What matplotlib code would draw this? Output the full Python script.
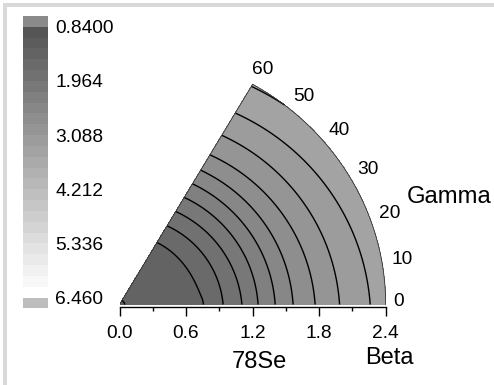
import matplotlib.pyplot as plt
from matplotlib.colors import ListedColormap, BoundaryNorm
from matplotlib.patches import Rectangle
import numpy as np

plt.rcParams['font.family'] = ['Liberation Sans', 'DejaVu Sans']

# colour scale of the contour map (25 equal steps)
levels = np.linspace(0.84, 6.46, 26)
cbar_ticks = [0.84, 1.964, 3.088, 4.212, 5.336, 6.46]
cbar_labels = ['0.8400', '1.964', '3.088', '4.212', '5.336', '6.460']

# energy read along the two wedge edges (gamma = 0 and gamma = 60)
beta_g0 = [0.0, 0.05, 0.755, 0.935, 1.101, 1.25, 1.401, 1.566, 1.761, 1.986, 2.257, 2.4]
e_g0 = [1.28, 1.29, 1.51, 1.74, 1.96, 2.19, 2.41, 2.64, 2.86, 3.09, 3.31, 3.43]
beta_g60 = [0.0, 0.045, 0.673, 0.858, 1.011, 1.168, 1.313, 1.465, 1.628, 1.846, 2.083, 2.4]
e_g60 = [1.28, 1.29, 1.51, 1.74, 1.96, 2.19, 2.41, 2.64, 2.86, 3.09, 3.31, 3.555]

beta_ticks = [0.0, 0.6, 1.2, 1.8, 2.4]
beta_minor = [0.3, 0.9, 1.5, 2.1]
gamma_ticks = [0, 10, 20, 30, 40, 50, 60]
beta_max = 2.4

# grays: dark -> white, with separate below / above colours
band_grays = [85 + 170 * j / 24 for j in range(25)]
band_colors = ['#' + ('%02x' % int(round(v))) * 3 for v in band_grays]
below_color = '#8a8a8a'
above_color = '#bdbdbd'
cmap = ListedColormap(band_colors)
norm = BoundaryNorm(levels, cmap.N)

W, H = 494, 385
fig = plt.figure(figsize=(W / 100, H / 100), dpi=100)

# light frame lines on top and left
fig.add_artist(Rectangle((3.3 / W, 1 - 6.7 / H), 1, 3.4 / H, transform=fig.transFigure,
                         color='#d9d9d9', lw=0))
fig.add_artist(Rectangle((3.3 / W, 0), 3.4 / W, 1 - 3.3 / H, transform=fig.transFigure,
                         color='#d9d9d9', lw=0))

# main wedge
x0, x1, ytop, ybot = 119.5, 385.7, 84.3, 304.5
ax = fig.add_axes([x0 / W, 1 - ybot / H, (x1 - x0) / W, (ybot - ytop) / H])

b = np.linspace(0, beta_max, 241)
g = np.radians(np.linspace(0, 60, 121))
B, G = np.meshgrid(b, g)
w = G / np.radians(60)
E = np.interp(B, beta_g0, e_g0) * (1 - w) + np.interp(B, beta_g60, e_g60) * w
X = B * np.cos(G)
Y = B * np.sin(G)

ax.contourf(X, Y, E, levels=levels, cmap=cmap, norm=norm)
ax.contour(X, Y, E, levels=levels, colors='k', linewidths=1.0)

t = np.radians(np.linspace(0, 60, 200))
ax.plot(beta_max * np.cos(t), beta_max * np.sin(t), color='#333333', lw=0.6)
ax.plot([0, beta_max * np.cos(np.pi / 3)], [0, beta_max * np.sin(np.pi / 3)],
        color='#333333', lw=0.6)

ax.set_xlim(0, beta_max)
ax.set_ylim(0, beta_max * np.sin(np.pi / 3))
for s in ['left', 'right', 'top']:
    ax.spines[s].set_visible(False)
ax.spines['bottom'].set_position(('outward', 2))
ax.spines['bottom'].set_linewidth(1.0)
ax.set_yticks([])
ax.set_xticks(beta_ticks)
ax.set_xticklabels(['%.1f' % v for v in beta_ticks])
ax.set_xticks(beta_minor, minor=True)
ax.tick_params(axis='x', which='major', direction='out', length=6.7, width=1.0,
               labelsize=13.8, pad=6)
ax.tick_params(axis='x', which='minor', direction='out', length=3.1, width=1.0)
ax.patch.set_alpha(0)

for gt in gamma_ticks:
    a = np.radians(gt)
    d = 9 if gt == 0 else 15
    dy = 2 if gt == 0 else -2
    ax.annotate(str(gt), xy=(beta_max * np.cos(a), beta_max * np.sin(a)),
                xytext=(d * np.cos(a), d * np.sin(a) + dy), textcoords='offset points',
                ha='center', va='center', fontsize=13.8, annotation_clip=False)

fig.text(259.3 / W, 1 - 361.7 / H, '78Se', ha='center', va='center', fontsize=17)
fig.text(389 / W, 1 - 358.3 / H, 'Beta', ha='center', va='center', fontsize=17)
fig.text(449 / W, 1 - 197 / H, 'Gamma', ha='center', va='center', fontsize=17.2)

# colour scale on the left
cax = fig.add_axes([22.7 / W, 1 - 308.4 / H, 25 / W, 292.4 / H])
step = levels[1] - levels[0]
lows = [levels[0] - step] + list(levels[:-1]) + [levels[-1]]
box_colors = [below_color] + band_colors + [above_color]
cax.bar(0, [step] * len(lows), bottom=lows, width=1, color=box_colors, lw=0)
cax.set_xlim(-0.5, 0.5)
cax.set_ylim(levels[-1] + step, levels[0] - step)
for s in cax.spines.values():
    s.set_visible(False)
cax.set_xticks([])
cax.yaxis.tick_right()
cax.set_yticks(cbar_ticks)
cax.set_yticklabels(cbar_labels)
cax.tick_params(axis='y', length=0, pad=5.3, labelsize=13.8)

fig.savefig('out.png', dpi=100)
